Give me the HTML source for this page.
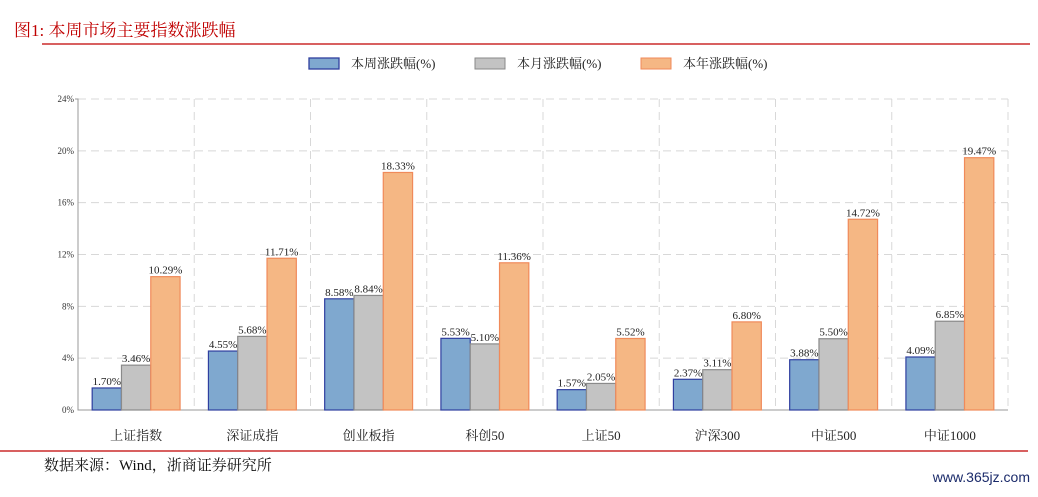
<!DOCTYPE html>
<html><head><meta charset="utf-8"><style>
body{margin:0;width:1038px;height:492px;background:#fff;overflow:hidden;font-family:"Liberation Serif","Noto Serif CJK SC",serif;}
</style></head><body>
<svg width="1038" height="492" xmlns="http://www.w3.org/2000/svg" id="chart">
<text x="14" y="36" font-size="17" fill="#c00000">图1:   本周市场主要指数涨跌幅</text>
<line x1="42" y1="44" x2="1030" y2="44" stroke="#c00000" stroke-width="1.3"/>
<g font-size="13" fill="#222">
<rect x="309" y="58" width="30" height="11" fill="#7fa8cf" stroke="#2f3f9f" stroke-width="1.3"/>
<text x="351" y="68">本周涨跌幅(%)</text>
<rect x="475" y="58" width="30" height="11" fill="#c3c3c3" stroke="#8a8a8a" stroke-width="1"/>
<text x="517" y="68">本月涨跌幅(%)</text>
<rect x="641" y="58" width="30" height="11" fill="#f5b784" stroke="#f08a5a" stroke-width="1"/>
<text x="683" y="68">本年涨跌幅(%)</text>
</g>
<g id="grid"></g><g id="bars"></g><g id="labels"></g>
<line x1="0" y1="451" x2="1028" y2="451" stroke="#c00000" stroke-width="1.2"/>
<text x="44" y="470" font-size="15" fill="#111">数据来源：Wind，浙商证券研究所</text>
<text x="1030" y="482" font-size="14" fill="#1a2a6a" text-anchor="end" font-family="Liberation Sans, sans-serif">www.365jz.com</text>
</svg>
<script>
const categories=["上证指数","深证成指","创业板指","科创50","上证50","沪深300","中证500","中证1000"];
const weekly=[1.70,4.55,8.58,5.53,1.57,2.37,3.88,4.09];
const monthly=[3.46,5.68,8.84,5.10,2.05,3.11,5.50,6.85];
const ytd=[10.29,11.71,18.33,11.36,5.52,6.80,14.72,19.47];
const yTicks=[0,4,8,12,16,20,24];
const NS="http://www.w3.org/2000/svg";
const X0=78,X1=1008,Y0=410,Y1=99,YMAX=24;
const gw=(X1-X0)/categories.length,bw=29.3;
const y=v=>Y0-(v/YMAX)*(Y0-Y1);
const gx=i=>X0+gw*i+gw/2;
function mk(t,a,p){const e=document.createElementNS(NS,t);for(const k in a)e.setAttribute(k,a[k]);p.appendChild(e);return e;}
const grid=document.getElementById('grid'),bars=document.getElementById('bars'),labels=document.getElementById('labels');
yTicks.forEach(t=>{
 if(t>0){const l=mk('line',{x1:X0,x2:X1,y1:y(t),y2:y(t),stroke:'#d8d8d8','stroke-dasharray':'8,5'},grid);
 
 }
 const tx=mk('text',{x:X0-4,y:y(t)+3,'font-size':9,'text-anchor':'end',fill:'#333'},labels);
 tx.textContent=t+'%';
 
 
});
for(let i=1;i<=categories.length;i++){
 const l=mk('line',{x1:X0+gw*i,x2:X0+gw*i,y1:Y1,y2:Y0,stroke:'#d8d8d8','stroke-dasharray':'8,5'},grid);
 
 
}
const ax=mk('path',{d:`M${X0-3} ${Y1}H${X0}V${Y0}H${X1}`,fill:'none',stroke:'#999'},grid);


const series=[[weekly,'#7fa8cf','#2f3f9f','weekly'],[monthly,'#c3c3c3','#8a8a8a','monthly'],[ytd,'#f5b784','#f08a5a','ytd']];
categories.forEach((c,i)=>{
 series.forEach((s,j)=>{
  const v=s[0][i],x=gx(i)-1.5*bw+j*bw;
  const r=mk('rect',{x:x,y:y(v),width:bw,height:Y0-y(v),fill:s[1],stroke:s[2],'stroke-width':1.2},bars);
  
  
  const t=mk('text',{x:x+bw/2,y:y(v)-3,'font-size':11,'text-anchor':'middle',fill:'#222'},labels);
  t.textContent=v.toFixed(2)+'%';
  
  
 });
 const t=mk('text',{x:gx(i),y:440,'font-size':13,'text-anchor':'middle',fill:'#222'},labels);
 t.textContent=c;
 
 
});
</script>
</body></html>
